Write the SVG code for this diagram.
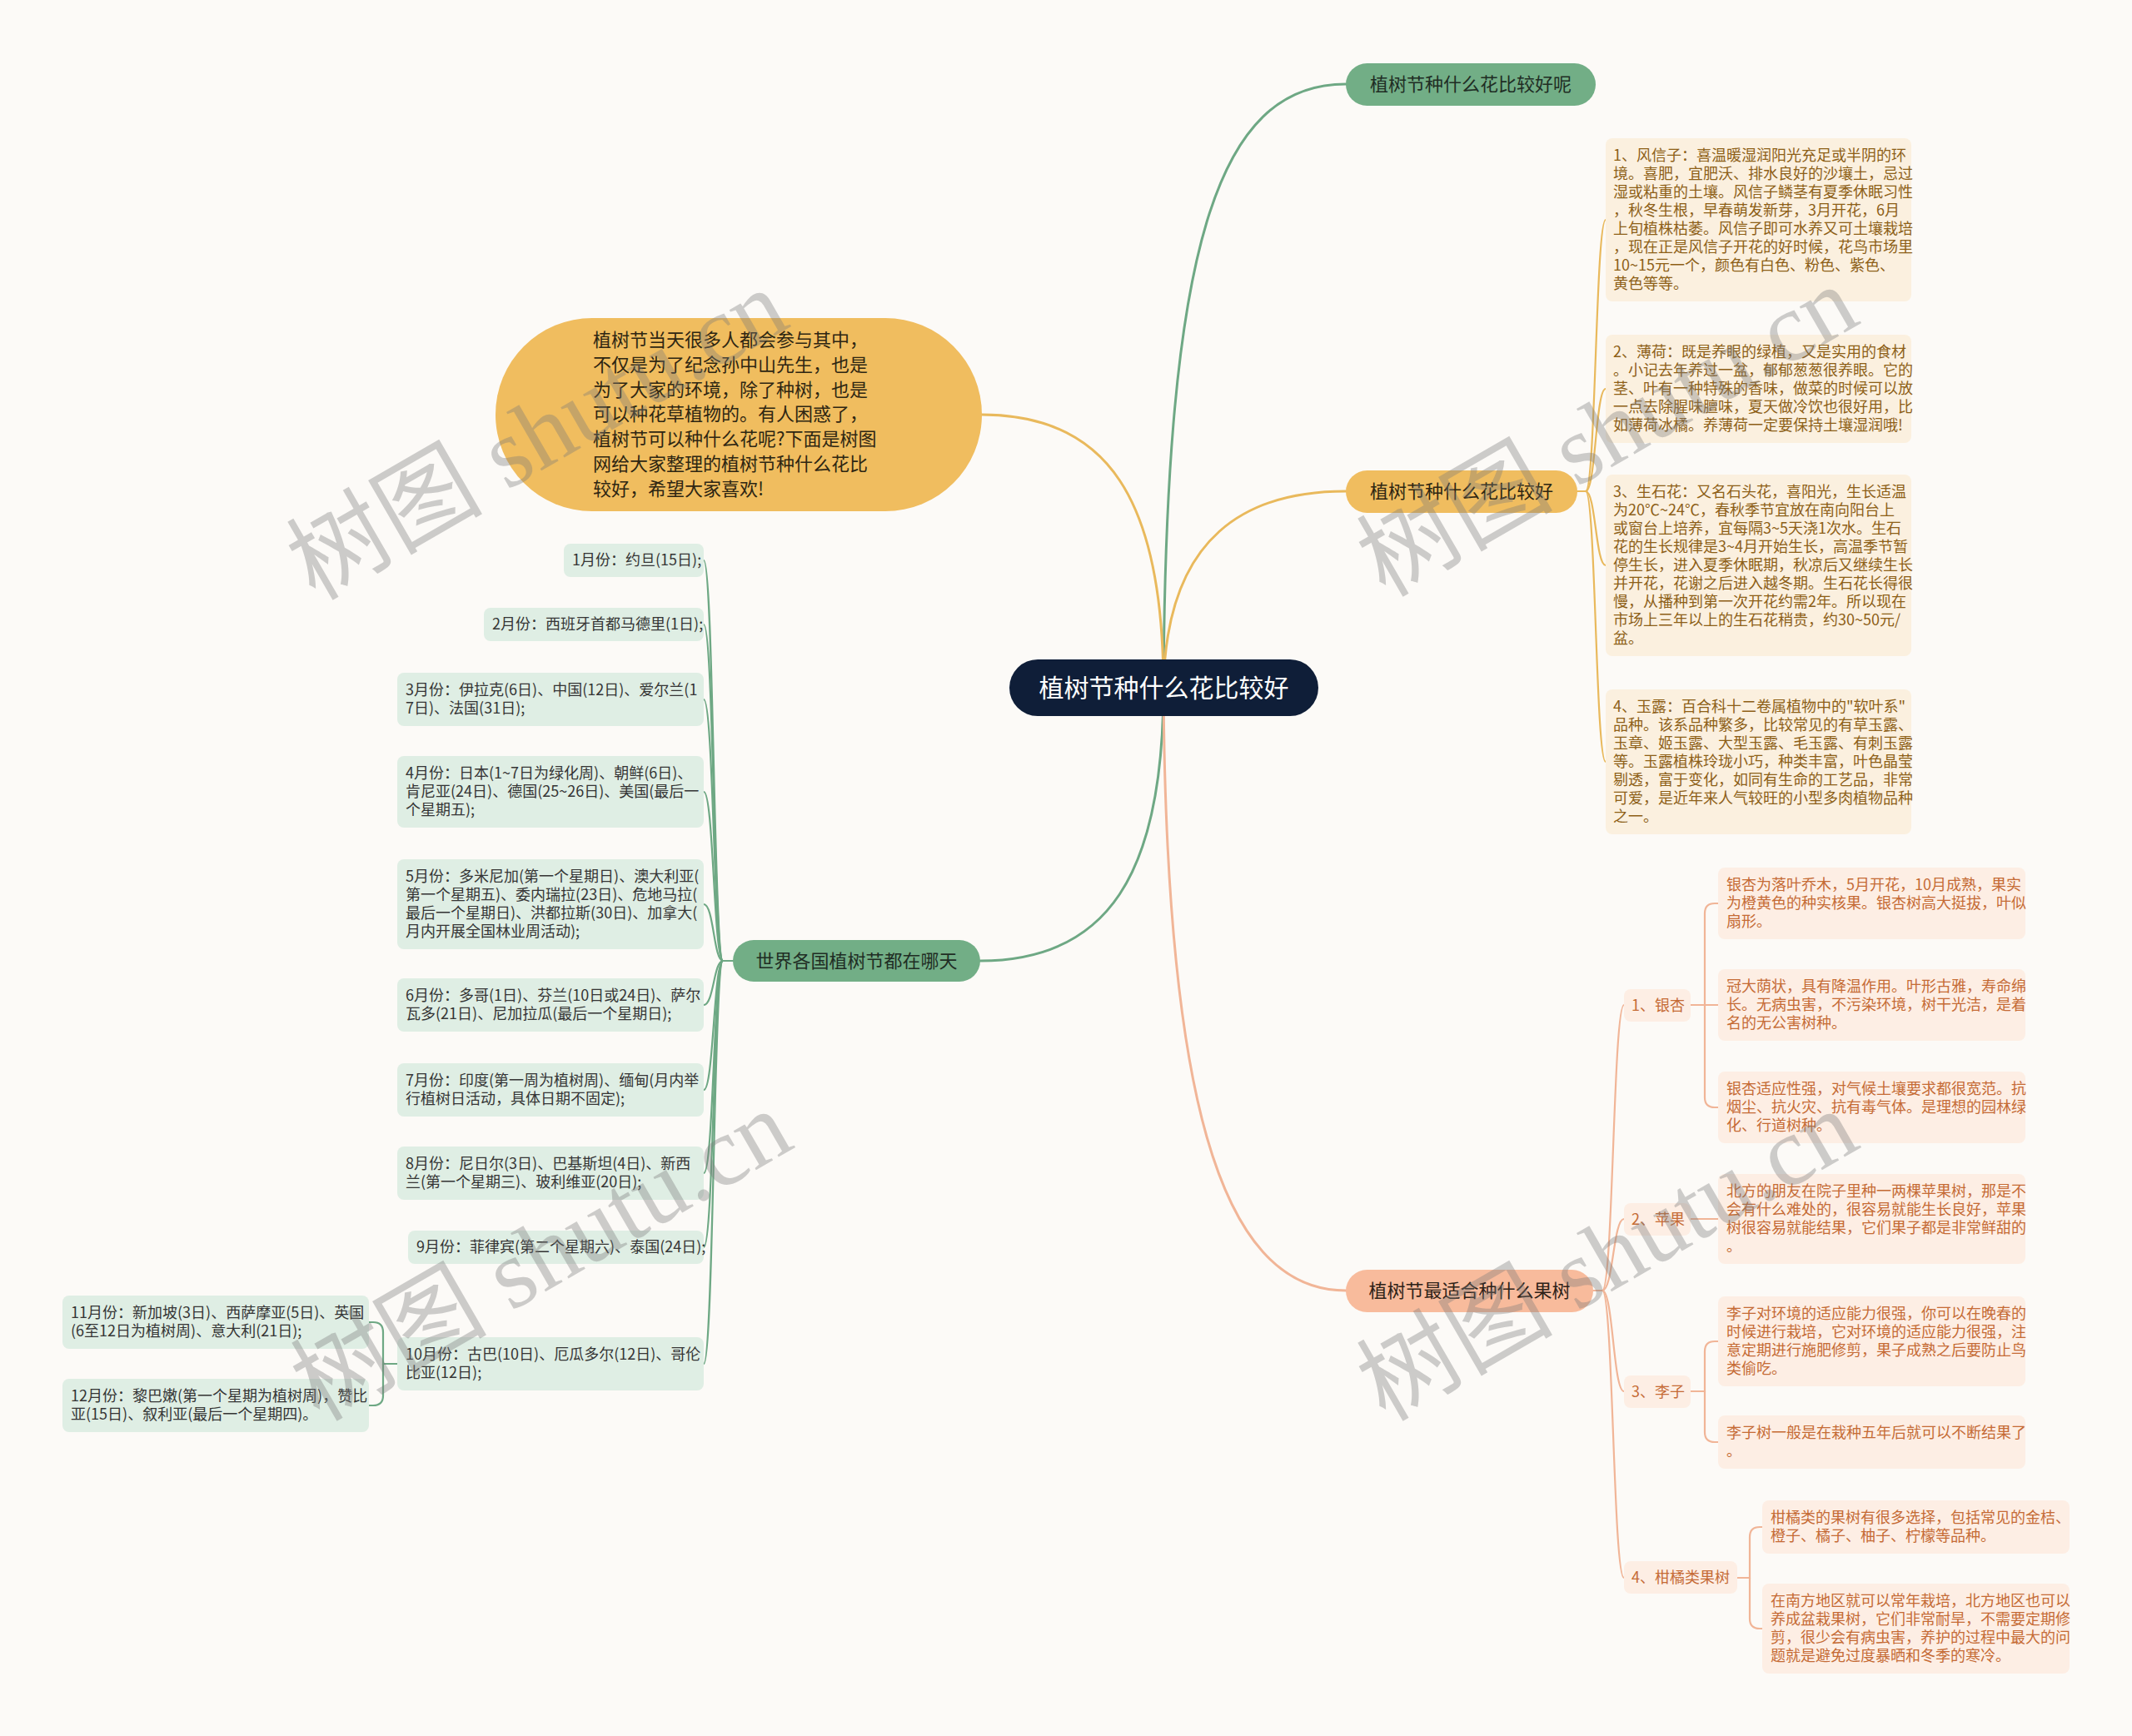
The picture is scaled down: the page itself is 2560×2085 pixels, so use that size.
<svg xmlns="http://www.w3.org/2000/svg" width="2560" height="2085" viewBox="0 0 2560 2085">
<style>
text{font-family:"Noto Sans CJK SC","Noto Sans",sans-serif;}
.lm{fill:none;stroke-width:3;stroke-linecap:round}
.ls{fill:none;stroke-width:2.2;stroke-linecap:round}
.g{stroke:#6ea884}
.y{stroke:#e9b95c}
.s{stroke:#f1b597}
.t18{font-size:18px}
.t22{font-size:22px}
.cream{fill:#fbf0df}
.ct{fill:#8d5f17}
.peach{fill:#fdeee4}
.pt{fill:#c56b35}
.mint{fill:#dfeee4}
.mt{fill:#353535}
.wm{font-family:"Liberation Serif","Noto Sans CJK SC",serif;font-size:118px;fill:#7a7a7a;opacity:0.36}
</style>
<rect width="2560" height="2085" fill="#fcfaf7"/>

<g id="connectors">
  <path class="lm g" d="M1397 826 C1400 300 1460 101 1616 101"/>
  <path class="lm y" d="M1397 826 C1400 640 1500 590 1616 590"/>
  <path class="lm y" d="M1397 826 C1397 600 1330 498 1179 498"/>
  <path class="lm g" d="M1397 826 C1397 1050 1330 1154 1177 1154"/>
  <path class="lm s" d="M1397 826 C1400 1300 1460 1550 1616 1550"/>
  <path class="ls y" d="M1894 590 L1904 590 C1916 590 1916 264 1928 264"/>
  <path class="ls y" d="M1894 590 L1904 590 C1916 590 1916 467 1928 467"/>
  <path class="ls y" d="M1894 590 L1904 590 C1916 590 1916 679 1928 679"/>
  <path class="ls y" d="M1894 590 L1904 590 C1916 590 1916 915 1928 915"/>
  <path class="ls g" d="M880 1154 L868 1154 C857 1154 857 673 845 673"/>
  <path class="ls g" d="M880 1154 L868 1154 C857 1154 857 750 845 750"/>
  <path class="ls g" d="M880 1154 L868 1154 C857 1154 857 840 845 840"/>
  <path class="ls g" d="M880 1154 L868 1154 C857 1154 857 951 845 951"/>
  <path class="ls g" d="M880 1154 L868 1154 C857 1154 857 1086 845 1086"/>
  <path class="ls g" d="M880 1154 L868 1154 C857 1154 857 1207 845 1207"/>
  <path class="ls g" d="M880 1154 L868 1154 C857 1154 857 1309 845 1309"/>
  <path class="ls g" d="M880 1154 L868 1154 C857 1154 857 1409 845 1409"/>
  <path class="ls g" d="M880 1154 L868 1154 C857 1154 857 1498 845 1498"/>
  <path class="ls g" d="M880 1154 L868 1154 C857 1154 857 1638 845 1638"/>
  <path class="ls g" d="M477 1638 H460 V1600 Q460 1588 448 1588 H443"/>
  <path class="ls g" d="M460 1638 V1676 Q460 1688 448 1688 H443"/>
  <path class="ls s" d="M1913 1550 L1924 1550 C1937 1550 1937 1207 1950 1207"/>
  <path class="ls s" d="M1913 1550 L1924 1550 C1937 1550 1937 1464 1950 1464"/>
  <path class="ls s" d="M1913 1550 L1924 1550 C1937 1550 1937 1671 1950 1671"/>
  <path class="ls s" d="M1913 1550 L1924 1550 C1937 1550 1937 1895 1950 1895"/>
  <path class="ls s" d="M2030 1207 H2063"/>
  <path class="ls s" d="M2047 1207 V1097 Q2047 1085 2059 1085 H2063"/>
  <path class="ls s" d="M2047 1207 V1318 Q2047 1330 2059 1330 H2063"/>
  <path class="ls s" d="M2030 1464 H2063"/>
  <path class="ls s" d="M2030 1671 H2047 V1623 Q2047 1611 2059 1611 H2063"/>
  <path class="ls s" d="M2047 1671 V1720 Q2047 1732 2059 1732 H2063"/>
  <path class="ls s" d="M2086 1895 H2101 V1846 Q2101 1834 2113 1834 H2116"/>
  <path class="ls s" d="M2101 1895 V1944 Q2101 1956 2113 1956 H2116"/>
</g>

<g id="root">
  <rect x="1212" y="792" width="371" height="68" rx="34" fill="#0f1e38"/>
  <text x="1397.5" y="837" font-size="30" fill="#ffffff" text-anchor="middle">植树节种什么花比较好</text>
</g>

<g id="intro">
  <rect x="595" y="382" width="584" height="232" rx="116" fill="#f0bd5f"/>
  <text class="t22" fill="#2e2612">
    <tspan x="712" y="416">植树节当天很多人都会参与其中，</tspan>
    <tspan x="712" y="446">不仅是为了纪念孙中山先生，也是</tspan>
    <tspan x="712" y="476">为了大家的环境，除了种树，也是</tspan>
    <tspan x="712" y="505">可以种花草植物的。有人困惑了，</tspan>
    <tspan x="712" y="535">植树节可以种什么花呢?下面是树图</tspan>
    <tspan x="712" y="565">网给大家整理的植树节种什么花比</tspan>
    <tspan x="712" y="595">较好，希望大家喜欢!</tspan>
  </text>
</g>

<g id="b-flower-q">
  <rect x="1616" y="76" width="300" height="51" rx="25.5" fill="#72ae86"/>
  <text class="t22" x="1766" y="109" fill="#1f2d24" text-anchor="middle">植树节种什么花比较好呢</text>
</g>

<g id="b-flower">
  <rect x="1616" y="565" width="278" height="51" rx="25.5" fill="#f0bd5f"/>
  <text class="t22" x="1755" y="598" fill="#2e2612" text-anchor="middle">植树节种什么花比较好</text>
</g>

<g id="flower-1">
  <rect class="cream" x="1928" y="166" width="367" height="196" rx="8"/>
  <text class="t18 ct">
    <tspan x="1937" y="193">1、风信子：喜温暖湿润阳光充足或半阴的环</tspan>
    <tspan x="1937" y="215">境。喜肥，宜肥沃、排水良好的沙壤土，忌过</tspan>
    <tspan x="1937" y="237">湿或粘重的土壤。风信子鳞茎有夏季休眠习性</tspan>
    <tspan x="1937" y="259">，秋冬生根，早春萌发新芽，3月开花，6月</tspan>
    <tspan x="1937" y="281">上旬植株枯萎。风信子即可水养又可土壤栽培</tspan>
    <tspan x="1937" y="303">，现在正是风信子开花的好时候，花鸟市场里</tspan>
    <tspan x="1937" y="325">10~15元一个，颜色有白色、粉色、紫色、</tspan>
    <tspan x="1937" y="347">黄色等等。</tspan>
  </text>
</g>

<g id="flower-2">
  <rect class="cream" x="1928" y="402" width="367" height="130" rx="8"/>
  <text class="t18 ct">
    <tspan x="1937" y="429">2、薄荷：既是养眼的绿植，又是实用的食材</tspan>
    <tspan x="1937" y="451">。小记去年养过一盆，郁郁葱葱很养眼。它的</tspan>
    <tspan x="1937" y="473">茎、叶有一种特殊的香味，做菜的时候可以放</tspan>
    <tspan x="1937" y="495">一点去除腥味膻味，夏天做冷饮也很好用，比</tspan>
    <tspan x="1937" y="517">如薄荷冰橘。养薄荷一定要保持土壤湿润哦!</tspan>
  </text>
</g>

<g id="flower-3">
  <rect class="cream" x="1928" y="570" width="367" height="218" rx="8"/>
  <text class="t18 ct">
    <tspan x="1937" y="597">3、生石花：又名石头花，喜阳光，生长适温</tspan>
    <tspan x="1937" y="619">为20℃~24℃，春秋季节宜放在南向阳台上</tspan>
    <tspan x="1937" y="641">或窗台上培养，宜每隔3~5天浇1次水。生石</tspan>
    <tspan x="1937" y="663">花的生长规律是3~4月开始生长，高温季节暂</tspan>
    <tspan x="1937" y="685">停生长，进入夏季休眠期，秋凉后又继续生长</tspan>
    <tspan x="1937" y="707">并开花，花谢之后进入越冬期。生石花长得很</tspan>
    <tspan x="1937" y="729">慢，从播种到第一次开花约需2年。所以现在</tspan>
    <tspan x="1937" y="751">市场上三年以上的生石花稍贵，约30~50元/</tspan>
    <tspan x="1937" y="773">盆。</tspan>
  </text>
</g>

<g id="flower-4">
  <rect class="cream" x="1928" y="828" width="367" height="174" rx="8"/>
  <text class="t18 ct">
    <tspan x="1937" y="855">4、玉露：百合科十二卷属植物中的"软叶系"</tspan>
    <tspan x="1937" y="877">品种。该系品种繁多，比较常见的有草玉露、</tspan>
    <tspan x="1937" y="899">玉章、姬玉露、大型玉露、毛玉露、有刺玉露</tspan>
    <tspan x="1937" y="921">等。玉露植株玲珑小巧，种类丰富，叶色晶莹</tspan>
    <tspan x="1937" y="943">剔透，富于变化，如同有生命的工艺品，非常</tspan>
    <tspan x="1937" y="965">可爱，是近年来人气较旺的小型多肉植物品种</tspan>
    <tspan x="1937" y="987">之一。</tspan>
  </text>
</g>

<g id="b-months">
  <rect x="880" y="1129" width="297" height="50" rx="25" fill="#72ae86"/>
  <text class="t22" x="1028.5" y="1162" fill="#1f2d24" text-anchor="middle">世界各国植树节都在哪天</text>
</g>

<g id="m1"><rect class="mint" x="677" y="653" width="168" height="40" rx="8"/>
  <text class="t18 mt" x="687" y="679">1月份：约旦(15日);</text></g>
<g id="m2"><rect class="mint" x="581" y="730" width="264" height="40" rx="8"/>
  <text class="t18 mt" x="591" y="756">2月份：西班牙首都马德里(1日);</text></g>
<g id="m3"><rect class="mint" x="477" y="808" width="368" height="64" rx="8"/>
  <text class="t18 mt"><tspan x="487" y="835">3月份：伊拉克(6日)、中国(12日)、爱尔兰(1</tspan><tspan x="487" y="857">7日)、法国(31日);</tspan></text></g>
<g id="m4"><rect class="mint" x="477" y="908" width="368" height="86" rx="8"/>
  <text class="t18 mt"><tspan x="487" y="935">4月份：日本(1~7日为绿化周)、朝鲜(6日)、</tspan><tspan x="487" y="957">肯尼亚(24日)、德国(25~26日)、美国(最后一</tspan><tspan x="487" y="979">个星期五);</tspan></text></g>
<g id="m5"><rect class="mint" x="477" y="1032" width="368" height="108" rx="8"/>
  <text class="t18 mt"><tspan x="487" y="1059">5月份：多米尼加(第一个星期日)、澳大利亚(</tspan><tspan x="487" y="1081">第一个星期五)、委内瑞拉(23日)、危地马拉(</tspan><tspan x="487" y="1103">最后一个星期日)、洪都拉斯(30日)、加拿大(</tspan><tspan x="487" y="1125">月内开展全国林业周活动);</tspan></text></g>
<g id="m6"><rect class="mint" x="477" y="1175" width="368" height="64" rx="8"/>
  <text class="t18 mt"><tspan x="487" y="1202">6月份：多哥(1日)、芬兰(10日或24日)、萨尔</tspan><tspan x="487" y="1224">瓦多(21日)、尼加拉瓜(最后一个星期日);</tspan></text></g>
<g id="m7"><rect class="mint" x="477" y="1277" width="368" height="64" rx="8"/>
  <text class="t18 mt"><tspan x="487" y="1304">7月份：印度(第一周为植树周)、缅甸(月内举</tspan><tspan x="487" y="1326">行植树日活动，具体日期不固定);</tspan></text></g>
<g id="m8"><rect class="mint" x="477" y="1377" width="368" height="64" rx="8"/>
  <text class="t18 mt"><tspan x="487" y="1404">8月份：尼日尔(3日)、巴基斯坦(4日)、新西</tspan><tspan x="487" y="1426">兰(第一个星期三)、玻利维亚(20日);</tspan></text></g>
<g id="m9"><rect class="mint" x="490" y="1478" width="355" height="40" rx="8"/>
  <text class="t18 mt" x="500" y="1504">9月份：菲律宾(第二个星期六)、泰国(24日);</text></g>
<g id="m10"><rect class="mint" x="477" y="1606" width="368" height="64" rx="8"/>
  <text class="t18 mt"><tspan x="487" y="1633">10月份：古巴(10日)、厄瓜多尔(12日)、哥伦</tspan><tspan x="487" y="1655">比亚(12日);</tspan></text></g>
<g id="m11"><rect class="mint" x="75" y="1556" width="368" height="64" rx="8"/>
  <text class="t18 mt"><tspan x="85" y="1583">11月份：新加坡(3日)、西萨摩亚(5日)、英国</tspan><tspan x="85" y="1605">(6至12日为植树周)、意大利(21日);</tspan></text></g>
<g id="m12"><rect class="mint" x="75" y="1656" width="368" height="64" rx="8"/>
  <text class="t18 mt"><tspan x="85" y="1683">12月份：黎巴嫩(第一个星期为植树周)，赞比</tspan><tspan x="85" y="1705">亚(15日)、叙利亚(最后一个星期四)。</tspan></text></g>

<g id="b-fruit">
  <rect x="1616" y="1525" width="297" height="51" rx="25.5" fill="#f8bb9c"/>
  <text class="t22" x="1764.5" y="1558" fill="#2e2218" text-anchor="middle">植树节最适合种什么果树</text>
</g>

<g id="f1"><rect class="peach" x="1950" y="1188" width="80" height="39" rx="8"/>
  <text class="t18 pt" x="1959" y="1214">1、银杏</text></g>
<g id="f1a"><rect class="peach" x="2063" y="1042" width="369" height="86" rx="8"/>
  <text class="t18 pt"><tspan x="2073" y="1069">银杏为落叶乔木，5月开花，10月成熟，果实</tspan><tspan x="2073" y="1091">为橙黄色的种实核果。银杏树高大挺拔，叶似</tspan><tspan x="2073" y="1113">扇形。</tspan></text></g>
<g id="f1b"><rect class="peach" x="2063" y="1164" width="369" height="86" rx="8"/>
  <text class="t18 pt"><tspan x="2073" y="1191">冠大荫状，具有降温作用。叶形古雅，寿命绵</tspan><tspan x="2073" y="1213">长。无病虫害，不污染环境，树干光洁，是着</tspan><tspan x="2073" y="1235">名的无公害树种。</tspan></text></g>
<g id="f1c"><rect class="peach" x="2063" y="1287" width="369" height="86" rx="8"/>
  <text class="t18 pt"><tspan x="2073" y="1314">银杏适应性强，对气候土壤要求都很宽范。抗</tspan><tspan x="2073" y="1336">烟尘、抗火灾、抗有毒气体。是理想的园林绿</tspan><tspan x="2073" y="1358">化、行道树种。</tspan></text></g>

<g id="f2"><rect class="peach" x="1950" y="1445" width="80" height="39" rx="8"/>
  <text class="t18 pt" x="1959" y="1471">2、苹果</text></g>
<g id="f2a"><rect class="peach" x="2063" y="1410" width="369" height="108" rx="8"/>
  <text class="t18 pt"><tspan x="2073" y="1437">北方的朋友在院子里种一两棵苹果树，那是不</tspan><tspan x="2073" y="1459">会有什么难处的，很容易就能生长良好，苹果</tspan><tspan x="2073" y="1481">树很容易就能结果，它们果子都是非常鲜甜的</tspan><tspan x="2073" y="1503">。</tspan></text></g>

<g id="f3"><rect class="peach" x="1950" y="1652" width="80" height="39" rx="8"/>
  <text class="t18 pt" x="1959" y="1678">3、李子</text></g>
<g id="f3a"><rect class="peach" x="2063" y="1557" width="369" height="108" rx="8"/>
  <text class="t18 pt"><tspan x="2073" y="1584">李子对环境的适应能力很强，你可以在晚春的</tspan><tspan x="2073" y="1606">时候进行栽培，它对环境的适应能力很强，注</tspan><tspan x="2073" y="1628">意定期进行施肥修剪，果子成熟之后要防止鸟</tspan><tspan x="2073" y="1650">类偷吃。</tspan></text></g>
<g id="f3b"><rect class="peach" x="2063" y="1700" width="369" height="64" rx="8"/>
  <text class="t18 pt"><tspan x="2073" y="1727">李子树一般是在栽种五年后就可以不断结果了</tspan><tspan x="2073" y="1749">。</tspan></text></g>

<g id="f4"><rect class="peach" x="1950" y="1875" width="136" height="39" rx="8"/>
  <text class="t18 pt" x="1959" y="1901">4、柑橘类果树</text></g>
<g id="f4a"><rect class="peach" x="2116" y="1802" width="369" height="64" rx="8"/>
  <text class="t18 pt"><tspan x="2126" y="1829">柑橘类的果树有很多选择，包括常见的金桔、</tspan><tspan x="2126" y="1851">橙子、橘子、柚子、柠檬等品种。</tspan></text></g>
<g id="f4b"><rect class="peach" x="2116" y="1902" width="369" height="108" rx="8"/>
  <text class="t18 pt"><tspan x="2126" y="1929">在南方地区就可以常年栽培，北方地区也可以</tspan><tspan x="2126" y="1951">养成盆栽果树，它们非常耐旱，不需要定期修</tspan><tspan x="2126" y="1973">剪，很少会有病虫害，养护的过程中最大的问</tspan><tspan x="2126" y="1995">题就是避免过度暴晒和冬季的寒冷。</tspan></text></g>

<g id="watermarks">
  <text class="wm" text-anchor="middle" transform="translate(645 522) rotate(-30)" y="40">树图 shutu.cn</text>
  <text class="wm" text-anchor="middle" transform="translate(1930 518) rotate(-30)" y="40">树图 shutu.cn</text>
  <text class="wm" text-anchor="middle" transform="translate(650 1508) rotate(-30)" y="40">树图 shutu.cn</text>
  <text class="wm" text-anchor="middle" transform="translate(1930 1508) rotate(-30)" y="40">树图 shutu.cn</text>
</g>
</svg>
